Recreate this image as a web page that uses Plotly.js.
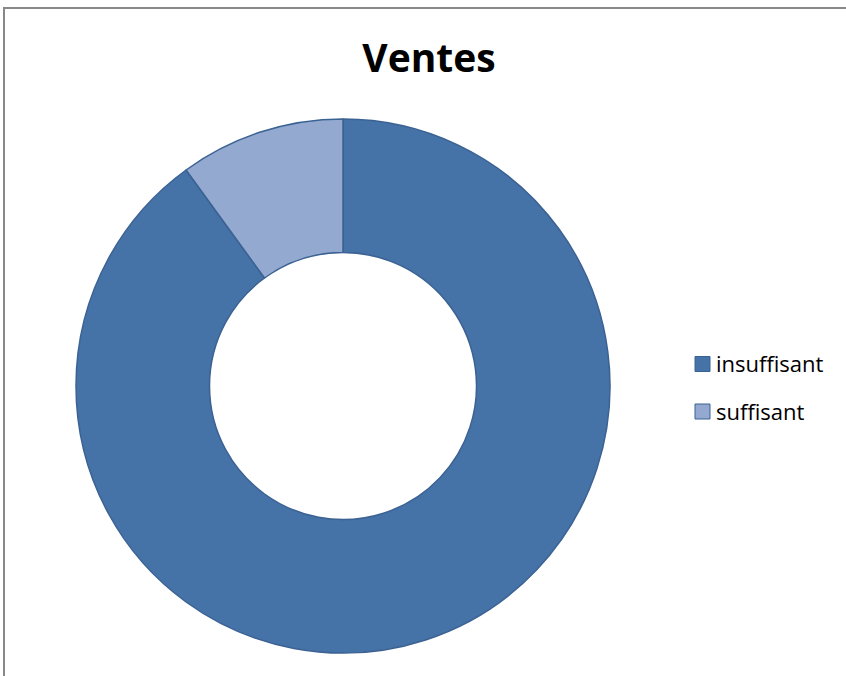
<!DOCTYPE html>
<html>
<head>
<meta charset="utf-8">
<script src="https://cdn.plot.ly/plotly-3.0.1.min.js"></script>
<style>
  html, body { margin: 0; padding: 0; background: #ffffff; overflow: hidden; }
  #chart { position: absolute; left: 0; top: 0; width: 846px; height: 676px; }
  #frame { position: absolute; left: 3px; top: 7px; width: 860px; height: 700px;
           border-left: 2px solid #888888; border-top: 2px solid #888888; pointer-events: none; }
</style>
</head>
<body>
<div id="chart"></div>
<div id="frame"></div>
<script>
const chartTitle = "Ventes";
const categories = ["insuffisant", "suffisant"];
const values = [90, 10];
const colors = ["#4572A7", "#93A9CF"];

const W = 846, H = 676;
const px = x => x / W;
const py = y => 1 - y / H;

const trace = {
  type: "pie",
  labels: categories,
  values: values,
  hole: 0.5,
  sort: false,
  direction: "clockwise",
  rotation: 0,
  textinfo: "none",
  hoverinfo: "label+value+percent",
  marker: { colors: colors, line: { color: "#3B6293", width: 1.5 } },
  domain: { x: [px(76), px(610)], y: [py(653), py(119)] },
  showlegend: false
};

// custom legend built from categories and colors
const shapes = [];
const annotations = [];
const legendY = [364, 411.5];
categories.forEach((c, i) => {
  shapes.push({
    type: "rect", xref: "paper", yref: "paper",
    x0: px(695), x1: px(710), y0: py(legendY[i] + 7.5), y1: py(legendY[i] - 7.5),
    fillcolor: colors[i], line: { color: "#3B6293", width: 1 }
  });
  annotations.push({
    xref: "paper", yref: "paper", x: px(714), y: py(legendY[i] - 1),
    xanchor: "left", yanchor: "middle", showarrow: false, text: c,
    font: { family: "Open Sans, Liberation Sans, sans-serif", size: 22, color: "#000000" }
  });
});

const layout = {
  width: W, height: H,
  margin: { l: 0, r: 0, t: 0, b: 0 },
  paper_bgcolor: "rgba(0,0,0,0)",
  plot_bgcolor: "rgba(0,0,0,0)",
  title: {
    text: "<b>" + chartTitle + "</b>",
    x: px(429), xanchor: "center",
    y: py(58), yanchor: "middle",
    font: { family: "Open Sans, Liberation Sans, sans-serif", size: 39, color: "#000000" }
  },
  shapes: shapes,
  annotations: annotations,
  showlegend: false
};

Plotly.newPlot("chart", [trace], layout, { displayModeBar: false, staticPlot: true });
</script>
</body>
</html>
